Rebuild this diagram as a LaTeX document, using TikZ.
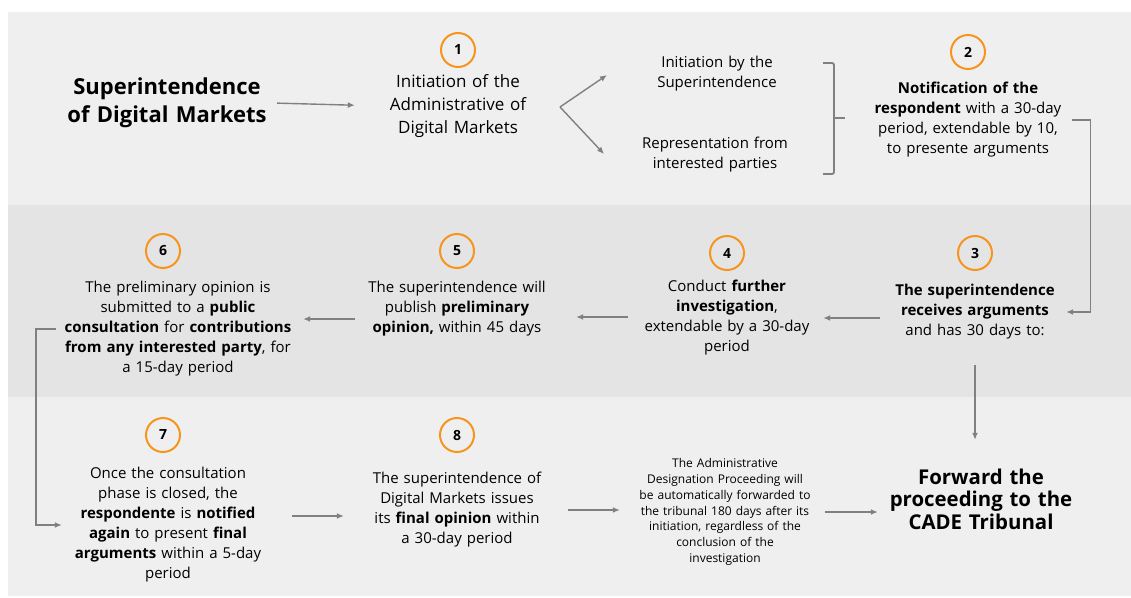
\documentclass[tikz,border=0pt]{standalone}
\usepackage{fontspec}
\setmainfont{Open Sans}
\usetikzlibrary{arrows.meta}
\definecolor{bandlight}{HTML}{EFEFEF}
\definecolor{banddark}{HTML}{E4E4E4}
\definecolor{stepedge}{HTML}{F7941D}
\definecolor{linkgray}{HTML}{808080}
\tikzset{
  >=Latex,
  line cap=round,
  line join=round,
  numcircle/.style={circle, draw=stepedge, line width=2pt, minimum size=34pt, inner sep=0pt, font=\bfseries\fontsize{14}{14}\selectfont},
  stepbox/.style={align=center, inner sep=0pt, font=\fontsize{15}{20}\selectfont},
  bigbox/.style={align=center, inner sep=0pt, font=\bfseries\fontsize{22}{28}\selectfont},
  smallbox/.style={align=center, inner sep=0pt, font=\fontsize{12}{15.8}\selectfont},
  arrow/.style={-{Latex[length=7pt,width=6pt]}, draw=linkgray, line width=1.4pt},
  bracket/.style={draw=linkgray, line width=1.8pt, rounded corners=2pt}
}

\begin{document}
\begin{tikzpicture}[x=1pt, y=-1pt]

% 배경
\useasboundingbox (0,0) rectangle (1131,597);
\fill[bandlight] (8,12) rectangle (1131,205);
\fill[banddark] (8,205) rectangle (1131,397);
\fill[bandlight] (8,397) rectangle (1131,596);

% 번호
\node[numcircle] (c1) at (458,50) {1};
\node[numcircle] (c2) at (968,52) {2};
\node[numcircle] (c3) at (975,253) {3};
\node[numcircle] (c4) at (727,253) {4};
\node[numcircle] (c5) at (457,251) {5};
\node[numcircle] (c6) at (163,251) {6};
\node[numcircle] (c7) at (163,435) {7};
\node[numcircle] (c8) at (457,435) {8};

% 첫째 줄
\node[bigbox, text width=210pt] (sup) at (167,103) {Superintendence\\of Digital Markets};
\node[stepbox, text width=150pt, font=\fontsize{17}{23}\selectfont] (n1) at (458,106) {Initiation of the\\Administrative of\\Digital Markets};
\node[stepbox, text width=150pt] (i1) at (717,74) {Initiation by the\\Superintendence};
\node[stepbox, text width=170pt] (i2) at (715,155) {Representation from\\interested parties};
\node[stepbox, text width=200pt] (n2) at (968,120) {\textbf{Notification of the}\\\textbf{respondent} with a 30-day\\period, extendable by 10,\\to presente arguments};

% 둘째 줄
\node[stepbox, text width=180pt, minimum height=106pt] (n3) at (975,312) {\textbf{The superintendence}\\\textbf{receives arguments}\\and has 30 days to:};
\node[stepbox, text width=190pt] (n4) at (727,318) {Conduct \textbf{further}\\\textbf{investigation},\\extendable by a 30-day\\period};
\node[stepbox, text width=200pt] (n5) at (457,309) {The superintendence will\\publish \textbf{preliminary}\\\textbf{opinion,} within 45 days};
\node[stepbox, text width=240pt] (n6) at (178,329) {The preliminary opinion is\\submitted to a \textbf{public}\\\textbf{consultation} for \textbf{contributions}\\\textbf{from any interested party}, for\\a 15-day period};

% 셋째 줄
\node[stepbox, text width=210pt] (n7) at (168,525) {Once the consultation\\phase is closed, the\\\textbf{respondente} is \textbf{notified}\\\textbf{again} to present \textbf{final}\\\textbf{arguments} within a 5-day\\period};
\node[stepbox, text width=190pt] (n8) at (457,510) {The superintendence of\\Digital Markets issues\\its \textbf{final opinion} within\\a 30-day period};
\node[smallbox, text width=190pt] (n9) at (725,512) {The Administrative\\Designation Proceeding will\\be automatically forwarded to\\the tribunal 180 days after its\\initiation, regardless of the\\conclusion of the\\investigation};
\node[bigbox, text width=200pt, minimum height=118pt, font=\bfseries\fontsize{20.4}{22.5}\selectfont] (n10) at (981,499) {Forward the\\proceeding to the\\CADE Tribunal};

% 화살표
\draw[arrow, shorten <=5pt, shorten >=28pt] (sup.east) -- (n1.west);
\coordinate (fork) at (560,107);
\coordinate (forkup) at (607,75);
\coordinate (forkdown) at (604,154);
\draw[arrow] (fork) -- (forkup);
\draw[arrow] (fork) -- (forkdown);
\draw[bracket] (823,63) -- (834,63) -- (834,174) -- (823,174);
\draw[bracket] (834,118) -- (845,118);
\draw[arrow, shorten <=4pt, shorten >=1pt] (n2.east) -- ++(22,0) |- (n3.east);
\draw[arrow, shorten <=5pt, shorten >=1pt] (n4.east -| n3.west) -- (n4.east);
\draw[arrow, shorten <=4pt, shorten >=19pt] ([yshift=1pt]n4.west) -- ([yshift=1pt]n4.west -| n5.east);
\draw[arrow, shorten <=2pt, shorten >=5pt] ([yshift=-10pt]n5.west) -- ([yshift=-10pt]n5.west -| n6.east);
\draw[arrow, shorten <=2pt, shorten >=1pt] (n6.west) -- ++(-22,0) |- (n7.west);
\draw[arrow, shorten <=19pt, shorten >=18pt] ([yshift=9pt]n7.east) -- ([yshift=9pt]n7.east -| n8.west);
\draw[arrow, shorten <=16pt, shorten >=10pt] (n8.east) -- (n8.east -| n9.west);
\draw[arrow, shorten <=5pt, shorten >=3pt] (n9.east) -- (n9.east -| n10.west);
\draw[arrow] (n3.south) -- (n3.south |- n10.north);

\end{tikzpicture}
\end{document}
